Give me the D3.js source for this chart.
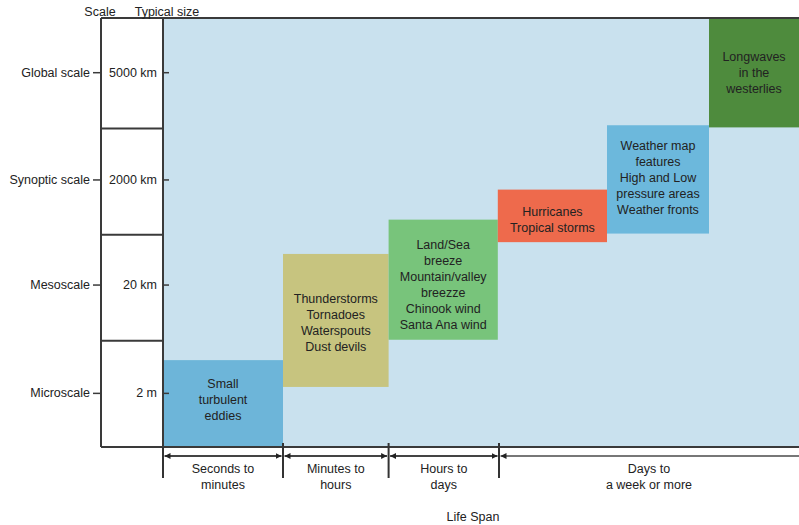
<!DOCTYPE html>
<html><head><meta charset="utf-8">
<script src="https://cdn.jsdelivr.net/npm/d3@7"></script>
<style>
html,body{margin:0;padding:0;background:#fff;}
svg{display:block;}
text{font-family:"Liberation Sans",Arial,sans-serif;fill:#222;}
</style></head>
<body><svg id="chart" width="799" height="525"></svg>
<script>
// ---- data ----
const scaleNames = ["Microscale", "Mesoscale", "Synoptic scale", "Global scale"];
const typicalSizes = ["2 m", "20 km", "2000 km", "5000 km"];
const rowCenters = [0.5, 1.51, 2.49, 3.49];
const rowDividers = [0.99, 1.98, 2.97];
const lifeSpanLabels = [["Seconds to", "minutes"], ["Minutes to", "hours"], ["Hours to", "days"], ["Days to", "a week or more"]];
const lifeSpanBounds = [0, 1, 1.88, 2.8, 5.3];
const phenomena = [
  ["Small", "turbulent", "eddies"],
  ["Thunderstorms", "Tornadoes", "Waterspouts", "Dust devils"],
  ["Land/Sea", "breeze", "Mountain/valley", "breezze", "Chinook wind", "Santa Ana wind"],
  ["Hurricanes", "Tropical storms"],
  ["Weather map", "features", "High and Low", "pressure areas", "Weather fronts"],
  ["Longwaves", "in the", "westerlies"]
];
const lifeStart = [0, 1, 1.88, 2.79, 3.7, 4.55];
const lifeEnd   = [1, 1.88, 2.79, 3.7, 4.55, 5.3];
const sizeLow   = [0, 0.56, 1.0, 1.91, 1.99, 2.98];
const sizeHigh  = [0.81, 1.80, 2.12, 2.40, 3.0, 4.0];
const boxColors = ["#6db5d9", "#c7c47f", "#78c47b", "#ee6a4c", "#6cb8dc", "#4e8b3d"];

// ---- layout / style ----
const textShift = [-4, 3, 5, 4, -1, 0];
const fs = 12.5;
const svg = d3.select("#chart");
const x = d3.scaleLinear().domain([0, 5.3]).range([163, 799]);
const y = d3.scaleLinear().domain([0, 4]).range([447, 18]);
const leftEdge = 101;
const lineH = 16;

// background plot area
svg.append("rect").attr("x", x(0)).attr("y", y(4)).attr("width", x(5.3) - x(0)).attr("height", y(0) - y(4)).attr("fill", "#c9e1ee");

// phenomenon boxes
phenomena.forEach((lines, i) => {
  const x0 = x(lifeStart[i]), x1 = x(lifeEnd[i]);
  const y0 = y(sizeHigh[i]), y1 = y(sizeLow[i]);
  svg.append("rect").attr("x", x0).attr("y", y0).attr("width", x1 - x0).attr("height", y1 - y0).attr("fill", boxColors[i]);
  const cx = (x0 + x1) / 2, cy = (y0 + y1) / 2 + textShift[i];
  const t = svg.append("text").attr("text-anchor", "middle").attr("font-size", fs);
  lines.forEach((l, j) => {
    t.append("tspan").attr("x", cx).attr("y", cy + (j - (lines.length - 1) / 2) * lineH + 4).text(l);
  });
});

// left frame
const frame = svg.append("g").attr("stroke", "#3a3a3a").attr("stroke-width", 2).attr("fill", "none");
frame.append("line").attr("x1", leftEdge).attr("x2", 799).attr("y1", y(4)).attr("y2", y(4));
frame.append("line").attr("x1", leftEdge).attr("x2", 799).attr("y1", y(0)).attr("y2", y(0));
frame.append("line").attr("x1", leftEdge).attr("x2", leftEdge).attr("y1", y(4)).attr("y2", y(0));
frame.append("line").attr("x1", x(0)).attr("x2", x(0)).attr("y1", y(4)).attr("y2", y(0));
rowDividers.forEach(d => {
  frame.append("line").attr("x1", leftEdge).attr("x2", x(0)).attr("y1", y(d)).attr("y2", y(d));
});

// row labels and ticks
rowCenters.forEach((c, i) => {
  const yy = y(c);
  svg.append("line").attr("x1", leftEdge - 8).attr("x2", leftEdge).attr("y1", yy).attr("y2", yy).attr("stroke", "#3a3a3a").attr("stroke-width", 1.5);
  svg.append("text").attr("x", leftEdge - 11).attr("y", yy + 4).attr("text-anchor", "end").attr("font-size", fs).text(scaleNames[i]);
  svg.append("line").attr("x1", x(0)).attr("x2", x(0) + 6).attr("y1", yy).attr("y2", yy).attr("stroke", "#3a3a3a").attr("stroke-width", 1.5);
  svg.append("text").attr("x", x(0) - 6).attr("y", yy + 4).attr("text-anchor", "end").attr("font-size", fs).text(typicalSizes[i]);
});

// headers
svg.append("text").attr("x", 100).attr("y", 16).attr("text-anchor", "middle").attr("font-size", fs).text("Scale");
svg.append("text").attr("x", 167).attr("y", 16).attr("text-anchor", "middle").attr("font-size", fs).text("Typical size");

// life span axis
const defs = svg.append("defs");
defs.append("marker").attr("id", "arr").attr("viewBox", "0 0 10 10").attr("refX", 10).attr("refY", 5)
  .attr("markerWidth", 6).attr("markerHeight", 6).attr("markerUnits", "userSpaceOnUse").attr("orient", "auto-start-reverse")
  .append("path").attr("d", "M0,0L10,5L0,10Z").attr("fill", "#222");
const arrowY = 456;
lifeSpanBounds.slice(0, -1).forEach((b, i) => {
  const xa = x(b), xb = x(lifeSpanBounds[i + 1]);
  const last = i === lifeSpanBounds.length - 2;
  svg.append("line").attr("x1", xa + 1.5).attr("x2", last ? xb : xb - 1.5).attr("y1", arrowY).attr("y2", arrowY)
    .attr("stroke", last ? "#777" : "#444").attr("stroke-width", 2)
    .attr("marker-start", "url(#arr)").attr("marker-end", last ? null : "url(#arr)");
  const cx = (xa + xb) / 2;
  const t = svg.append("text").attr("text-anchor", "middle").attr("font-size", fs);
  lifeSpanLabels[i].forEach((l, j) => t.append("tspan").attr("x", cx).attr("y", 473 + j * 16).text(l));
});
lifeSpanBounds.slice(0, -1).forEach((b, i) => {
  svg.append("line").attr("x1", x(b)).attr("x2", x(b)).attr("y1", i === 0 ? y(0) : y(0) - 4).attr("y2", 478)
    .attr("stroke", "#333").attr("stroke-width", 2);
});
svg.append("text").attr("x", 473).attr("y", 521).attr("text-anchor", "middle").attr("font-size", fs).text("Life Span");
</script></body></html>
